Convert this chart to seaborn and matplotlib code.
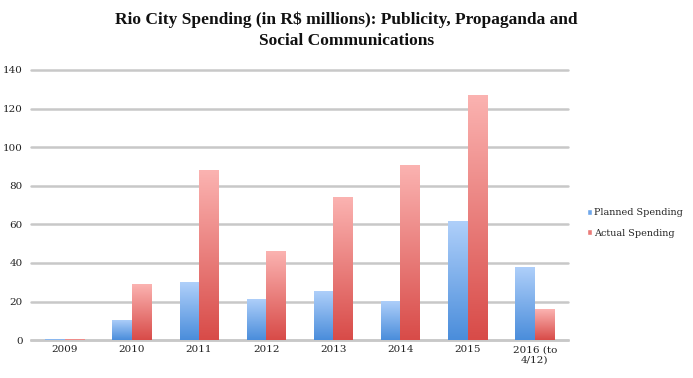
import numpy as np
import pandas as pd
import matplotlib
matplotlib.use("Agg")
import matplotlib.pyplot as plt
from matplotlib.colors import LinearSegmentedColormap
from matplotlib.patches import Patch
import seaborn as sns

years = ["2009", "2010", "2011", "2012", "2013", "2014", "2015", "2016 (to\n4/12)"]
planned = [0.5, 10.5, 30, 21.5, 25.5, 20.5, 62, 38]
actual = [0.5, 29, 88, 46, 74, 90.5, 127, 16]
series = ["Planned Spending", "Actual Spending"]

df = pd.DataFrame({
    "year": years * 2,
    "value": planned + actual,
    "series": [series[0]] * len(years) + [series[1]] * len(years),
})

sns.set_style("white")
plt.rcParams["font.family"] = ["DejaVu Serif"]

fig = plt.figure(figsize=(6.93, 3.78), dpi=100)
ax = fig.add_axes([0.045, 0.10, 0.775, 0.715])

palette = {series[0]: "#6fa7ea", series[1]: "#ea7b78"}
sns.barplot(data=df, x="year", y="value", hue="series", palette=palette,
            width=0.58, dodge=True, ax=ax, legend=False, zorder=3)

# gradient fill: light at top, darker at bottom
grads = {
    series[0]: LinearSegmentedColormap.from_list("b", ["#4a8ddb", "#b0d0fa"]),
    series[1]: LinearSegmentedColormap.from_list("r", ["#d84b48", "#fbb3b1"]),
}
grad = np.linspace(0, 1, 256).reshape(-1, 1)
for container, name in zip(ax.containers, series):
    for bar in container:
        x0, y0 = bar.get_x(), bar.get_y()
        w, h = bar.get_width(), bar.get_height()
        bar.set_facecolor("none")
        bar.set_edgecolor("none")
        im = ax.imshow(grad, cmap=grads[name], origin="lower", aspect="auto",
                       extent=[x0, x0 + w, y0, y0 + h], zorder=3)
        im.set_clip_path(bar)

ax.set_xlim(-0.5, len(years) - 0.5)
ax.set_ylim(0, 140)
ax.set_yticks(range(0, 141, 20))
ax.yaxis.grid(True, color="#c8c8c8", linewidth=1.8, zorder=0)
for gl in ax.get_ygridlines():
    gl.set_clip_on(False)
ax.set_axisbelow(True)
for s in ["top", "right", "left"]:
    ax.spines[s].set_visible(False)
ax.spines["bottom"].set_color("#c8c8c8")
ax.spines["bottom"].set_linewidth(1.8)
ax.tick_params(axis="both", length=0, labelsize=7.5, colors="#222222")
ax.tick_params(axis="y", pad=6)
ax.set_xlabel("")
ax.set_ylabel("")

handles = [Patch(facecolor="#6fa7ea", label=series[0]),
           Patch(facecolor="#ea7b78", label=series[1])]
fig.legend(handles=handles, loc="center left", bbox_to_anchor=(0.834, 0.41),
           frameon=False, fontsize=6.9, handlelength=0.55, handleheight=0.55,
           handletextpad=0.25, labelspacing=1.2)

fig.suptitle("Rio City Spending (in R$ millions): Publicity, Propaganda and\nSocial Communications",
             fontsize=12.5, fontweight="bold", y=0.97, linespacing=1.45,
             family=["Liberation Serif", "DejaVu Serif"], color="#111111")

fig.savefig("out.png", dpi=100)
